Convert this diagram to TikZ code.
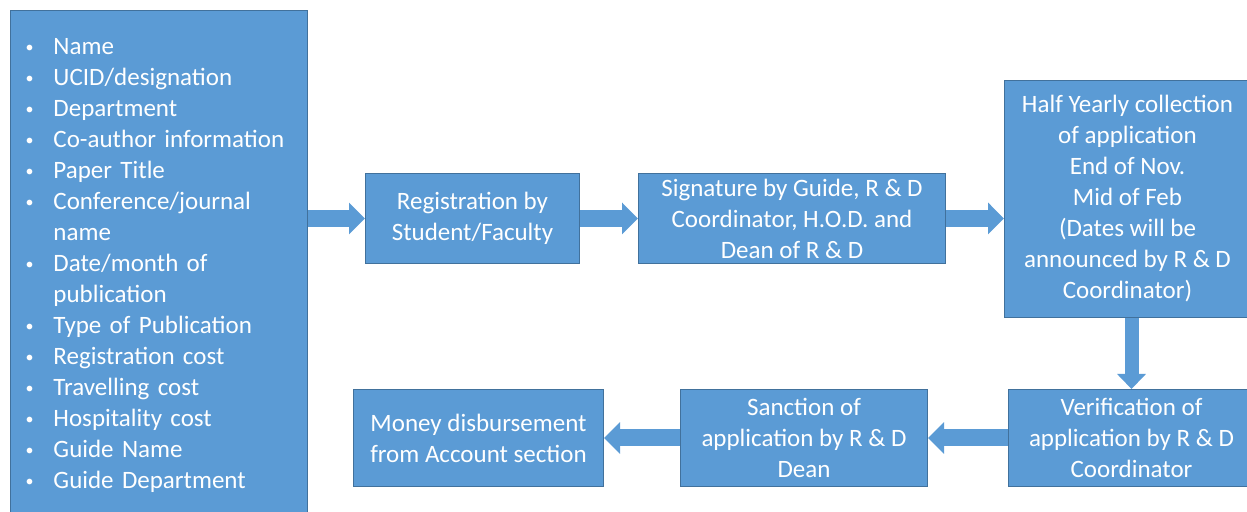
\documentclass[tikz,border=0pt]{standalone}
\usepackage{fontspec}
\setmainfont{Carlito}
\usepackage{tikz}
\usetikzlibrary{arrows.meta, positioning}

\definecolor{boxblue}{HTML}{5B9BD5}
\definecolor{edgeblue}{HTML}{41719C}

\tikzset{
    stage/.style={draw=edgeblue, line width=0.5pt, fill=boxblue, text=white,
        align=center, inner sep=0pt, anchor=north west,
        font=\fontsize{12.5}{15.5}\selectfont},
    flow/.style={draw=boxblue, line width=8.5pt,
        -{Triangle[length=8pt, width=15.5pt]}}
}

\begin{document}
\begin{tikzpicture}[x=0.5pt, y=-0.5pt]
                \useasboundingbox (0,0) rectangle (1247,512);

                \node[stage, minimum width=148.5pt, minimum height=255pt, text width=148.5pt, align=left] (info) at (10,10) {%
                    \begin{list}{\raisebox{1pt}{\fontsize{8}{8}\selectfont\textbullet}}{\setlength\leftmargin{21.5pt}\setlength\labelsep{10pt}\setlength\labelwidth{11.5pt}%
                        \setlength\itemsep{0pt}\setlength\parsep{0pt}\setlength\topsep{0pt}\setlength\partopsep{0pt}}
                    \item Name
                    \item UCID/designation
                    \item Department
                    \item Co-author information
                    \item Paper Title
                    \item Conference/journal\\name
                    \item Date/month of\\publication
                    \item Type of Publication
                    \item Registration cost
                    \item Travelling cost
                    \item Hospitality cost
                    \item Guide Name
                    \item Guide Department
                    \end{list}\par\vspace{7pt}};

                \node[stage, minimum width=107pt, minimum height=45pt] (reg) at (365,173) {Registration by\\Student/Faculty};
                \node[stage, minimum width=153.5pt, minimum height=45pt] (sign) at (638,173) {Signature by Guide, R \& D\\Coordinator, H.O.D. and\\Dean of R \& D};
                \node[stage, minimum width=123pt, minimum height=118.5pt] (half) at (1004,80) {Half Yearly collection\\of application\\End of Nov.\\Mid of Feb\\(Dates will be\\announced by R \& D\\Coordinator)};
                \node[stage, minimum width=123pt, minimum height=48.5pt] (verify) at (1008,389) {Verification of\\application by R \& D\\Coordinator};
                \node[stage, minimum width=123.5pt, minimum height=48.5pt] (sanction) at (680,389) {Sanction of\\application by R \& D\\Dean};
                \node[stage, minimum width=125pt, minimum height=48.5pt] (money) at (353,389) {Money disbursement\\from Account section};

                \draw[flow] (info.east |- reg.west) -- (reg.west);
                \draw[flow] (reg.east) -- (sign.west);
                \draw[flow] (sign.east) -- (sign.east -| half.west);
                \draw[flow, line width=7pt, -{Triangle[length=7.5pt, width=14pt]}] (verify.north |- half.south) -- (verify.north);
                \draw[flow] (verify.west) -- (sanction.east);
                \draw[flow] (sanction.west) -- (money.east);
            \end{tikzpicture}
\end{document}
